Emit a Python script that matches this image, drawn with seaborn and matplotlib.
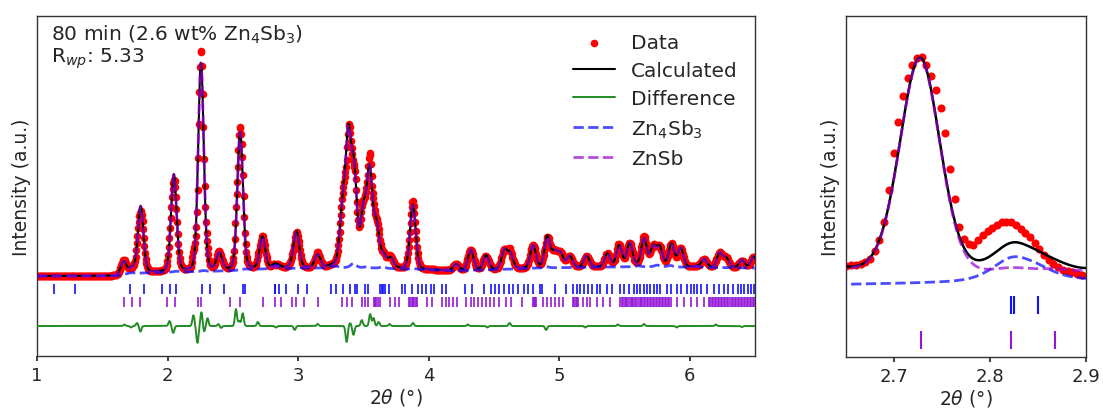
import numpy as np
import matplotlib
matplotlib.use("Agg")
import matplotlib.pyplot as plt
import seaborn as sns

# ---- measured pattern: angular step of the scan (deg 2theta) ----
step = 0.0049

# refined background (knots)
bg_two_theta = [1.0, 1.6, 1.64, 1.7, 1.85, 2.0, 2.3, 2.5, 2.66, 3.0, 3.3, 3.6, 3.9, 4.2, 4.5, 4.8, 5.2, 5.6, 6.0, 6.5]
bg_level = [0, 0, 1.0, 2.3, 3.2, 3.8, 4.5, 5.5, 6.7, 7.5, 8.3, 7.8, 6.5, 5.3, 6.3, 7.8, 8.8, 9.2, 8.8, 8.0]

# ZnSb peak list: position (deg) and height (a.u.)
znsb_pos = [1.663, 1.728, 1.794, 2.048, 2.256, 2.397, 2.556, 2.727, 2.822, 2.868, 2.953, 2.988,
            3.149, 3.34, 3.385, 3.43, 3.50, 3.548, 3.60, 3.655, 3.71, 3.879, 4.21, 4.323, 4.44,
            4.58, 4.625, 4.80, 4.91, 4.965, 5.01, 5.08, 5.21, 5.37, 5.46, 5.54, 5.65, 5.72, 5.77,
            5.86, 5.93, 6.11, 6.23, 6.28, 6.40, 6.49]
znsb_height = [12.7, 4.0, 66.6, 96.8, 208.3, 17.0, 138.2, 32.0, 1.0, 0.8, 3.0, 35.4,
               13.0, 53.7, 123.7, 84.9, 51.9, 93.7, 40.2, 10.2, 9.4, 63.9, 6.4, 20.2, 14.3,
               18.2, 14.8, 22.8, 30.2, 14.4, 13.5, 11.1, 11.2, 13.2, 21.3, 23.4, 27.6, 19.0, 18.1,
               21.5, 18.6, 8.1, 14.4, 9.2, 7.8, 11.1]

# Zn4Sb3 peak list
zn4sb3_pos = [1.722, 2.069, 2.275, 2.595, 2.822, 2.825, 2.85, 3.0, 3.25, 3.29, 3.424, 3.52, 3.65, 3.88,
              4.9, 5.6, 5.75, 5.85, 6.05]
zn4sb3_height = [0.8, 0.8, 1.0, 0.8, 2.3, 0.8, 1.2, 0.8, 1.2, 1.2, 4.5, 1.0, 1.5, 1.0, 1.2, 1.0, 1.8, 1.5, 0.8]

# observed minus calculated misfit features
resid_pos = [1.67, 1.72, 1.766, 1.792, 2.015, 2.044, 2.198, 2.229, 2.26, 2.28, 2.306, 2.39, 2.41,
             2.524, 2.55, 2.576, 2.692, 2.83, 2.974, 3.15, 3.372, 3.398, 3.424, 3.488, 3.552, 3.578,
             3.617, 3.70, 3.88, 4.30, 4.45, 4.62, 4.90, 5.20, 5.45, 5.65, 5.90, 6.20, 6.40]
resid_amp = [1.5, -1.5, 3, -5.7, 5, -7, 11, -17, 14, -6, 8, 2, -2,
             17, 5, 13, 4, -1.5, -4, 2, -16, 3, -9, 6, 12, 8,
             4, 2, 3, 1.5, -1.5, 3, -4, -1.5, 1.5, 2, -1.5, 1.5, -1]

# close-up of the 2.65-2.90 deg region: observed points
zoom_two_theta = [2.6505, 2.6554, 2.6603, 2.6652, 2.6701, 2.6750, 2.6799, 2.6848, 2.6897, 2.6946,
                  2.6995, 2.7044, 2.7093, 2.7142, 2.7191, 2.7240, 2.7289, 2.7338, 2.7387, 2.7436,
                  2.7485, 2.7534, 2.7583, 2.7632, 2.7681, 2.7730, 2.7779, 2.7828, 2.7877, 2.7926,
                  2.7975, 2.8024, 2.8073, 2.8122, 2.8171, 2.8220, 2.8269, 2.8318, 2.8367, 2.8416,
                  2.8465, 2.8514, 2.8563, 2.8612, 2.8661, 2.8710, 2.8759, 2.8808, 2.8857, 2.8906, 2.8955]
zoom_obs = [9.5, 9.55, 9.65, 9.75, 10.0, 10.5, 11.6, 13.3, 15.9, 20.5,
            26.0, 30.5, 34.3, 36.9, 38.8, 39.9, 40.0, 38.8, 37.2, 35.1,
            32.6, 28.9, 23.6, 19.2, 15.2, 13.4, 12.6, 12.55, 13.3, 13.9,
            14.5, 15.0, 15.45, 15.8, 15.9, 15.85, 15.4, 14.9, 14.3, 13.6,
            12.85, 11.9, 11.0, 10.3, 9.75, 9.25, 8.9, 8.7, 8.5, 8.25, 8.1]

# reflection positions
zn4sb3_ticks = [1.128, 1.290, 1.714, 1.817, 1.959, 2.018, 2.061, 2.267, 2.324, 2.429, 2.581, 2.593,
                2.822, 2.825, 2.85, 2.910, 3.000, 3.071, 3.251, 3.287, 3.347, 3.398, 3.436, 3.449,
                3.509, 3.539, 3.629, 3.640, 3.652, 3.663, 3.693, 3.796, 3.817, 3.874, 3.920, 3.951,
                3.982, 4.015, 4.041, 4.100, 4.130, 4.280, 4.336, 4.426, 4.478, 4.511, 4.542, 4.580,
                4.614, 4.645, 4.683, 4.727, 4.760, 4.799, 4.850, 4.871, 4.966, 5.056, 5.107, 5.133,
                5.159, 5.190, 5.223, 5.249, 5.287, 5.313, 5.364, 5.403, 5.467, 5.493, 5.531, 5.570,
                5.596, 5.621, 5.647, 5.673, 5.698, 5.724, 5.750, 5.775, 5.827, 5.853, 5.904, 5.930,
                5.981, 6.007, 6.032, 6.058, 6.084, 6.135, 6.187, 6.225, 6.264, 6.290, 6.328, 6.367,
                6.393, 6.418, 6.444, 6.470, 6.495]
znsb_ticks = [1.668, 1.728, 1.792, 1.992, 2.054, 2.233, 2.260, 2.480, 2.555, 2.728, 2.822, 2.868,
              2.953, 2.987, 3.046, 3.149, 3.334, 3.372, 3.416, 3.488, 3.513, 3.539, 3.578, 3.590,
              3.600, 3.615, 3.629, 3.706, 3.745, 3.771, 3.848, 3.861, 3.870, 3.880, 3.890, 3.900,
              3.912, 3.989, 4.028, 4.105, 4.131, 4.156, 4.187, 4.221, 4.285, 4.323, 4.349, 4.375,
              4.408, 4.439, 4.470, 4.503, 4.542, 4.593, 4.632, 4.717, 4.799, 4.805, 4.812, 4.825,
              4.876, 4.907, 4.940, 4.966, 5.000, 5.030, 5.107, 5.115, 5.125, 5.136, 5.146, 5.184,
              5.210, 5.236, 5.287, 5.339, 5.390, 5.467, 5.478, 5.489, 5.501, 5.512, 5.523, 5.535,
              5.547, 5.558, 5.569, 5.581, 5.592, 5.604, 5.616, 5.627, 5.638, 5.650, 5.661, 5.673,
              5.684, 5.696, 5.707, 5.719, 5.730, 5.742, 5.753, 5.765, 5.776, 5.788, 5.799, 5.811,
              5.822, 5.834, 5.845, 5.853, 5.904, 5.955, 6.007, 6.058, 6.110, 6.148, 6.159, 6.170,
              6.182, 6.193, 6.205, 6.216, 6.228, 6.240, 6.251, 6.263, 6.274, 6.286, 6.297, 6.309,
              6.320, 6.332, 6.343, 6.355, 6.366, 6.378, 6.389, 6.401, 6.412, 6.424, 6.435, 6.447,
              6.458, 6.470, 6.481, 6.495]


def pseudo_voigt(x, pos, height, fwhm, eta):
    d = (np.asarray(x)[:, None] - np.asarray(pos)[None, :]) / fwhm
    shape = (1 - eta) * np.exp(-4 * np.log(2) * d ** 2) + eta / (1 + 4 * d ** 2)
    return (shape * np.asarray(height)[None, :]).sum(axis=1)


def phases(x):
    bg = np.interp(x, bg_two_theta, bg_level)
    znsb = pseudo_voigt(x, znsb_pos, znsb_height, 0.05, 0.18)
    zn4sb3 = pseudo_voigt(x, zn4sb3_pos, zn4sb3_height, 0.05, 0.5)
    return bg, znsb, zn4sb3


two_theta = np.round(np.arange(1.0, 6.5, step), 4)
bg, znsb, zn4sb3 = phases(two_theta)
calc = bg + znsb + zn4sb3
misfit = (np.asarray(resid_amp)[None, :] *
          np.exp(-0.5 * ((two_theta[:, None] - np.asarray(resid_pos)[None, :]) / 0.008) ** 2)).sum(axis=1)
obs = calc + misfit

fine = np.arange(2.64, 2.91, 0.001)
bg_f, znsb_f, zn4sb3_f = phases(fine)
calc_f = bg_f + znsb_f + zn4sb3_f

sns.set_theme(style="ticks")
plt.rcParams["font.family"] = ["DejaVu Sans"]
plt.rcParams.update({
    "xtick.labelsize": 13, "axes.labelsize": 13.5, "legend.fontsize": 14.5,
    "xtick.major.size": 3.5, "axes.linewidth": 1.0, "axes.edgecolor": "#333333",
    "mathtext.default": "regular",
})

RED, BLUE_D, PURPLE_D = "red", "blue", "darkviolet"
TICK_BLUE, TICK_PURPLE = "#1010ff", "#9418d6"

fig = plt.figure(figsize=(11.03, 4.10), dpi=100)
ax = fig.add_axes([37 / 1103, 1 - 357 / 410, 718 / 1103, 340 / 410])
axz = fig.add_axes([846 / 1103, 1 - 358 / 410, 240 / 1103, 341 / 410])

# --- full pattern ---
sns.scatterplot(x=two_theta, y=obs, color=RED, s=30, linewidth=0, label="Data", ax=ax, zorder=2)
sns.lineplot(x=two_theta, y=calc, color="black", lw=1.5, label="Calculated", ax=ax,
             estimator=None, sort=False, zorder=3)
sns.lineplot(x=two_theta, y=obs - calc - 50, color="forestgreen", lw=1.4, label="Difference", ax=ax,
             estimator=None, sort=False, zorder=3)
sns.lineplot(x=two_theta, y=bg + zn4sb3, color=BLUE_D, alpha=0.7, lw=2, linestyle="--",
             label="Zn$_4$Sb$_3$", ax=ax, estimator=None, sort=False, zorder=4)
sns.lineplot(x=two_theta, y=bg + znsb, color=PURPLE_D, alpha=0.7, lw=2, linestyle="--",
             label="ZnSb", ax=ax, estimator=None, sort=False, zorder=4)
ax.vlines(zn4sb3_ticks, -18, -8, color=TICK_BLUE, lw=1.2)
ax.vlines(znsb_ticks, -31, -21, color=TICK_PURPLE, lw=1.2)

ax.set_xlim(1, 6.5)
ax.set_ylim(-80, 260)
ax.set_yticks([])
ax.set_xticks([1, 2, 3, 4, 5, 6])
ax.set_xlabel(r"2$\mathit{\theta}$ (°)", labelpad=1.5)
ax.set_ylabel("Intensity (a.u.)")
ax.text(0.02, 0.98, "80 min (2.6 wt% Zn$_4$Sb$_3$)\nR$_{\\mathit{wp}}$: 5.33", transform=ax.transAxes,
        fontsize=14.5, va="top", ha="left", linespacing=1.05)
ax.legend(loc="upper right", frameon=False, handlelength=2.1, labelspacing=0.45,
          borderaxespad=0.45)

# --- close-up ---
sns.scatterplot(x=zoom_two_theta, y=zoom_obs, color=RED, s=34, linewidth=0, ax=axz, zorder=2)
sns.lineplot(x=fine, y=calc_f, color="black", lw=1.8, ax=axz, estimator=None, sort=False, zorder=3)
sns.lineplot(x=fine, y=bg_f + zn4sb3_f, color=BLUE_D, alpha=0.7, lw=2, linestyle="--", ax=axz,
             estimator=None, sort=False, zorder=4)
sns.lineplot(x=fine, y=bg_f + znsb_f, color=PURPLE_D, alpha=0.7, lw=2, linestyle="--", ax=axz,
             estimator=None, sort=False, zorder=4)
axz.vlines(zn4sb3_ticks, 2.42, 5.05, color=TICK_BLUE, lw=1.5)
axz.vlines(znsb_ticks, -2.7, -0.07, color=TICK_PURPLE, lw=1.5)
axz.set_xlim(2.65, 2.9)
axz.set_ylim(-3.87, 45.98)
axz.set_yticks([])
axz.set_xticks([2.7, 2.8, 2.9])
axz.set_xlabel(r"2$\mathit{\theta}$ (°)", labelpad=1.5)
axz.set_ylabel("Intensity (a.u.)")
if axz.get_legend() is not None:
    axz.get_legend().remove()

fig.savefig("out.png", dpi=100)
